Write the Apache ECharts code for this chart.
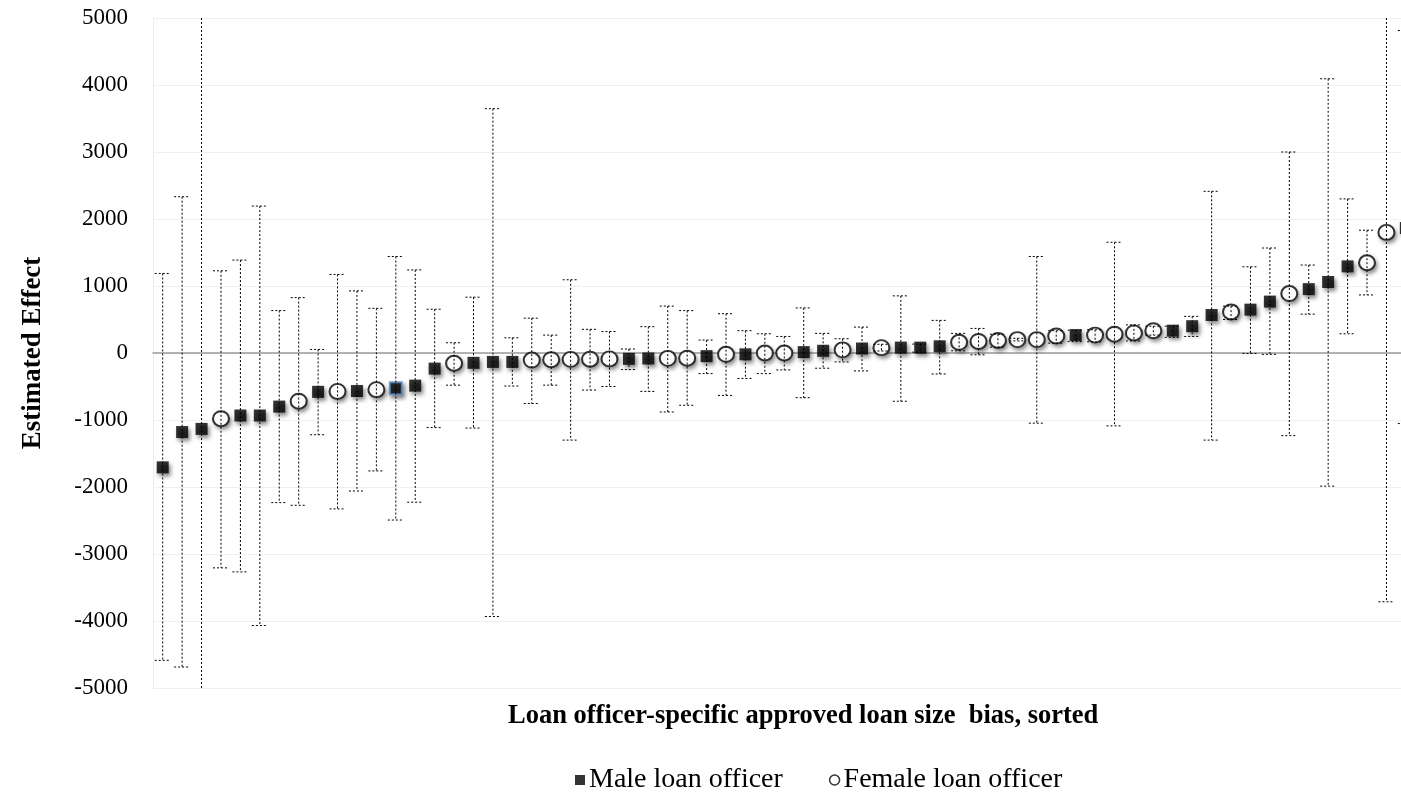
<!DOCTYPE html>
<html>
<head>
<meta charset="utf-8">
<script src="https://cdn.jsdelivr.net/npm/echarts@6/dist/echarts.min.js"></script>
<style>html,body{margin:0;padding:0;background:#fff}#c{width:1401px;height:800px}</style>
</head>
<body>
<div id="c"></div>
<script>
// Loan officers, sorted by estimated bias (position index 0..64)
const officers = Array.from({length: 65}, (_, i) => 'Officer ' + (i + 1));
const gender = ['M','M','M','F','M','M','M','F','M','F','M','F','M','M','M','F','M','M','M','F',
                'F','F','F','F','M','M','F','F','M','F','M','F','F','M','M','F','M','F','M','M',
                'M','F','F','F','F','F','F','M','F','F','F','F','M','M','M','F','M','M','F','M',
                'M','M','F','F','M'];
const estimate = [-1707,-1180,-1133,-980,-933,-933,-800,-720,-580,-573,
                  -567,-547,-527,-487,-233,-153,-147,-133,-133,-105,
                  -100,-95,-92,-88,-87,-82,-80,-78,-47,-20,
                  -20,0,0,13,33,47,67,80,80,80,
                  100,160,173,187,200,200,253,267,267,280,
                  300,333,333,400,567,613,647,767,887,953,
                  1060,1293,1347,1800,1867];
const upper = [1187,2333,5600,1227,1387,2193,633,827,53,1173,
               927,667,1440,1240,653,153,833,3647,227,520,
               267,1093,353,320,60,393,700,633,193,587,
               333,287,247,673,293,213,387,130,853,133,
               487,293,367,280,220,1440,333,340,347,1653,
               420,400,400,547,2413,700,1287,1567,3000,1313,
               4093,2300,1833,5600,4813];
const lower = [-4587,-4687,-5600,-3207,-3267,-4067,-2233,-2273,-1220,-2327,
               -2060,-1760,-2493,-2227,-1113,-480,-1120,-3933,-493,-753,
               -480,-1300,-553,-500,-247,-573,-880,-780,-307,-633,
               -380,-307,-253,-667,-227,-133,-267,30,-720,13,
               -313,33,-27,87,180,-1047,147,170,167,-1087,
               180,267,233,247,-1300,500,-7,-20,-1233,580,
               -1987,287,867,-3713,-1053];
const highlighted = [12]; // officer shown with a blue outline
const yTicks = {min: -5000, max: 5000, interval: 1000};
const xRange = {min: -0.5, max: 63.75}; // visible part of the sorted officer positions

const shadow = {shadowBlur: 4, shadowColor: 'rgba(0,0,0,0.6)', shadowOffsetX: 2, shadowOffsetY: 3};
const maleData = [], femaleData = [], errData = [];
estimate.forEach((v, i) => {
  errData.push({name: officers[i], value: [i, lower[i], upper[i]]});
  if (gender[i] === 'M') {
    const item = {name: officers[i], value: [i, v]};
    if (highlighted.includes(i)) item.itemStyle = {borderColor: '#5b8fd0', borderWidth: 2};
    maleData.push(item);
  } else {
    femaleData.push({name: officers[i], value: [i, v]});
  }
});

const serif = 'Liberation Serif, Times New Roman, serif';
const chart = echarts.init(document.getElementById('c'));
chart.setOption({
  animation: false,
  backgroundColor: '#fff',
  grid: {left: 153, top: 18, right: 0, bottom: 112, containLabel: false},
  xAxis: {
    type: 'value', min: xRange.min, max: xRange.max,
    axisLine: {show: true, onZero: true, lineStyle: {color: '#9a9a9a', width: 1.5}},
    axisTick: {show: false}, axisLabel: {show: false}, splitLine: {show: false}
  },
  yAxis: {
    type: 'value', min: yTicks.min, max: yTicks.max, interval: yTicks.interval,
    name: 'Estimated Effect', nameLocation: 'middle', nameGap: 106,
    nameTextStyle: {fontFamily: serif, fontWeight: 'bold', fontSize: 27, color: '#000'},
    axisLine: {show: true, onZero: false, lineStyle: {color: '#eeeeee'}},
    axisTick: {show: false},
    axisLabel: {fontFamily: serif, fontSize: 23, color: '#000', margin: 25, formatter: v => String(v)},
    splitLine: {lineStyle: {color: '#f0f0f0', width: 1}}
  },
  legend: {
    left: 570, top: 761, itemWidth: 10, itemHeight: 10, itemGap: 46,
    textStyle: {fontFamily: serif, fontSize: 28, color: '#000', padding: [0,0,0,-1]},
    data: [
      {name: 'Male loan officer', icon: 'rect', itemStyle: {color: '#000', borderWidth: 0, shadowBlur: 0, shadowOffsetX: 0, shadowOffsetY: 0}},
      {name: 'Female loan officer', icon: 'circle', itemStyle: {color: '#fff', borderColor: '#000', borderWidth: 1.5, shadowBlur: 0, shadowOffsetX: 0, shadowOffsetY: 0}}
    ]
  },
  graphic: [{
    type: 'text', left: 508, top: 703,
    style: {text: 'Loan officer-specific approved loan size  bias, sorted', fontFamily: serif, fontWeight: 'bold', fontSize: 26.5, fill: '#000'}
  }],
  series: [
    {
      name: 'Male loan officer', type: 'scatter', symbol: 'rect', symbolSize: 12, z: 2, clip: false,
      itemStyle: Object.assign({color: '#000'}, shadow), data: maleData
    },
    {
      name: 'female-shadow', type: 'scatter', symbol: 'circle', symbolSize: [17, 16], z: 1, clip: false,
      silent: true, itemStyle: Object.assign({color: '#fff'}, shadow), data: femaleData
    },
    {
      name: 'Female loan officer', type: 'scatter', symbol: 'circle', symbolSize: [16, 15], z: 2, clip: false,
      itemStyle: {color: '#fff', borderColor: '#000', borderWidth: 2}, data: femaleData
    },
    {
      name: 'CI', type: 'custom', z: 3, data: errData, encode: {x: 0, y: [1, 2]},
      renderItem: function (params, api) {
        const cs = params.coordSys;
        const x = api.coord([api.value(0), 0])[0];
        const yLo = api.coord([api.value(0), api.value(1)])[1];
        const yHi = api.coord([api.value(0), api.value(2)])[1];
        const top = cs.y, bot = cs.y + cs.height;
        const st = {stroke: '#000', lineWidth: 1, lineDash: [2, 2], fill: null};
        const y1 = Math.max(top, yHi), y2 = Math.min(bot, yLo);
        const ch = [{type: 'line', shape: {x1: x, y1: y1, x2: x, y2: y2}, style: st}];
        const cw = 8;
        if (yHi >= top) ch.push({type: 'line', shape: {x1: x - cw, y1: yHi, x2: x + cw, y2: yHi}, style: st});
        if (yLo <= bot) ch.push({type: 'line', shape: {x1: x - cw, y1: yLo, x2: x + cw, y2: yLo}, style: st});
        return {type: 'group', children: ch};
      }
    }
  ]
});
</script>
</body>
</html>
